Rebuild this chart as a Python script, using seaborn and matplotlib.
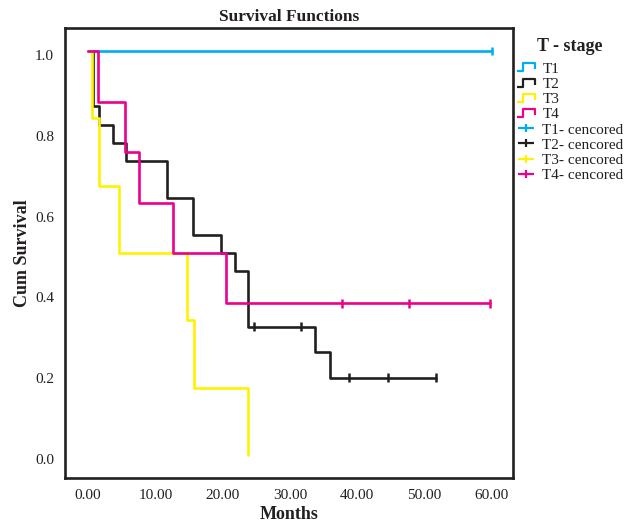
import numpy as np
import pandas as pd
import matplotlib
matplotlib.use('Agg')
import matplotlib.pyplot as plt
from matplotlib.path import Path
from matplotlib.lines import Line2D
from matplotlib.transforms import ScaledTranslation
import seaborn as sns

# ============ 数据 ============
stages = ['T1', 'T2', 'T3', 'T4']

t1_times = [0.0, 60.0]
t1_surv = [1.0, 1.0]
t1_cens = [60.0]

t2_times = [0.0, 0.8, 1.7, 3.7, 5.7, 11.8, 15.6, 19.8, 21.8, 23.8, 33.8, 35.9, 51.7]
t2_surv = [1.0, 0.864, 0.818, 0.773, 0.727, 0.636, 0.545, 0.5, 0.455, 0.318, 0.255, 0.191, 0.191]
t2_cens = [24.7, 31.6, 38.8, 44.6, 51.7]

t3_times = [0.0, 0.6, 1.7, 4.6, 14.7, 15.8, 23.7]
t3_surv = [1.0, 0.833, 0.667, 0.5, 0.333, 0.167, 0.0]
t3_cens = []

t4_times = [0.0, 1.5, 5.5, 7.6, 12.6, 20.5, 59.8]
t4_surv = [1.0, 0.875, 0.75, 0.625, 0.5, 0.375, 0.375]
t4_cens = [37.7, 47.7, 59.8]

x_ticks = [0, 10, 20, 30, 40, 50, 60]
y_ticks = [0.0, 0.2, 0.4, 0.6, 0.8, 1.0]

colors = ['#00AEEF', '#231F20', '#FFF200', '#EC008C']
ink = '#231F20'

# ============ 整理成长表 ============
curves = {'T1': (t1_times, t1_surv, t1_cens),
          'T2': (t2_times, t2_surv, t2_cens),
          'T3': (t3_times, t3_surv, t3_cens),
          'T4': (t4_times, t4_surv, t4_cens)}

rows, cens_rows = [], []
for s in stages:
    times, surv, cens = curves[s]
    for t, v in zip(times, surv):
        rows.append({'Months': t, 'Survival': v, 'stage': s})
    for t in cens:
        idx = np.searchsorted(times, t, side='right') - 1
        cens_rows.append({'Months': t, 'Survival': surv[idx], 'stage': s})
df = pd.DataFrame(rows)
df_cens = pd.DataFrame(cens_rows)

# ============ 绘图 ============
sns.set_style('white')
plt.rcParams['font.family'] = ['Liberation Serif', 'DejaVu Serif']

fig = plt.figure(figsize=(6.26, 5.27), dpi=100)
ax = fig.add_axes([65 / 626, 1 - 478 / 527, 448 / 626, 450 / 527])

palette = dict(zip(stages, colors))
sns.lineplot(data=df, x='Months', y='Survival', hue='stage', palette=palette,
             drawstyle='steps-post', estimator=None, sort=False,
             linewidth=1.9, legend=False, ax=ax)
sns.scatterplot(data=df_cens, x='Months', y='Survival', hue='stage', palette=palette,
                marker='|', s=40, linewidth=1.8, legend=False, ax=ax, zorder=5)

ax.set_xlim(-3.42, 63.15)
ax.set_ylim(-0.057, 1.057)
ax.set_xticks(x_ticks)
ax.set_xticklabels([f'{v:.2f}' for v in x_ticks])
ax.set_yticks(y_ticks)
ax.set_yticklabels([f'{v:.1f}' for v in y_ticks])
ax.tick_params(length=0, labelsize=11, colors=ink)
ax.tick_params(axis='y', pad=8)
ax.tick_params(axis='x', pad=8)
# SPSS 的纵轴标签略低于刻度位置
shift = ScaledTranslation(0, -4 / 100, fig.dpi_scale_trans)
for lab in ax.get_yticklabels():
    lab.set_transform(lab.get_transform() + shift)
for sp in ax.spines.values():
    sp.set_linewidth(1.9)
    sp.set_color(ink)

ax.set_title('Survival Functions', fontsize=12.5, fontweight='bold', color=ink, pad=5)
ax.set_xlabel('Months', fontsize=13, fontweight='bold', color=ink, labelpad=3)
ax.set_ylabel('Cum Survival', fontsize=13, fontweight='bold', color=ink, labelpad=3)

# ============ 图例 ============
step_marker = Path([(-9, -3.5), (-3, -3.5), (-3, 3.5), (9, 3.5), (9, -1.5)])
plus_marker = Path([(-7.5, 0), (7.5, 0), (0, -4), (0, 4)],
                   [Path.MOVETO, Path.LINETO, Path.MOVETO, Path.LINETO])
handles, labels = [], []
for s, c in zip(stages, colors):
    handles.append(Line2D([0], [0], linestyle='none', marker=step_marker, markersize=13,
                          markerfacecolor='none', markeredgecolor=c, markeredgewidth=1.6))
    labels.append(s)
for s, c in zip(stages, colors):
    handles.append(Line2D([0], [0], linestyle='none', marker=plus_marker, markersize=11,
                          markerfacecolor='none', markeredgecolor=c, markeredgewidth=1.6))
    labels.append(f'{s}- cencored')

leg = fig.legend(handles, labels, title='T - stage', loc='upper left',
                 bbox_to_anchor=(515 / 626, 1 - 38 / 527), frameon=False,
                 fontsize=11, title_fontproperties={'weight': 'bold', 'size': 13},
                 handlelength=1.5, handletextpad=0.3, labelspacing=0.1,
                 borderpad=0, borderaxespad=0)
leg._legend_box.sep = 5  # 标题与条目之间留出更大间距
leg.get_title().set_color(ink)
for t in leg.get_texts():
    t.set_color(ink)

fig.savefig('out.png', dpi=100)
